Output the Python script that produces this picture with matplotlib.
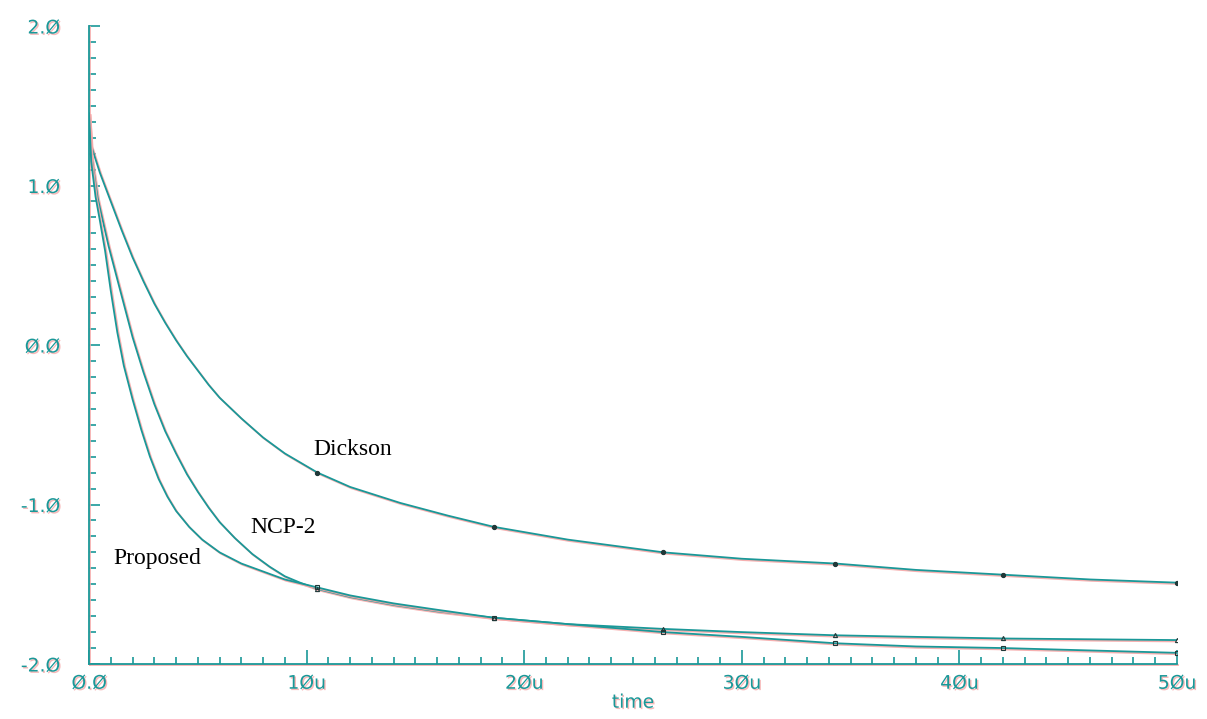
import numpy as np
import matplotlib
matplotlib.use("Agg")
import matplotlib.pyplot as plt
import matplotlib.patheffects as pe
from matplotlib.ticker import MultipleLocator, FixedLocator, FixedFormatter

# time in us, voltage in V
t_dickson = [0, 0.1, 0.5, 1.0, 1.5, 2.0, 2.5, 3.0, 3.5, 4.0, 4.5, 5.0, 5.5, 6.0, 7.0, 8.0,
             9.0, 10.5, 12.0, 14.3, 16.5, 18.6, 22.0, 26.4, 30.0, 34.3, 38.0, 42.0, 46.0, 50.0]
v_dickson = [1.45, 1.25, 1.08, 0.90, 0.72, 0.55, 0.40, 0.26, 0.14, 0.03, -0.07, -0.16,
             -0.25, -0.33, -0.46, -0.58, -0.68, -0.80, -0.89, -0.99, -1.07, -1.14, -1.22,
             -1.30, -1.34, -1.37, -1.41, -1.44, -1.47, -1.49]

t_ncp2 = [0, 0.1, 0.4, 0.9, 1.4, 2.0, 2.5, 3.0, 3.5, 4.0, 4.5, 5.0, 5.5, 6.0, 6.7, 7.5,
          8.3, 9.0, 9.7, 10.5, 12.0, 14.0, 16.0, 18.6, 22.0, 26.4, 30.0, 34.3, 38.0,
          42.0, 46.0, 50.0]
v_ncp2 = [1.45, 1.20, 0.92, 0.62, 0.36, 0.05, -0.17, -0.37, -0.54, -0.68, -0.81, -0.92,
          -1.02, -1.11, -1.21, -1.31, -1.39, -1.45, -1.49, -1.53, -1.58, -1.63, -1.67,
          -1.71, -1.75, -1.78, -1.80, -1.82, -1.83, -1.84, -1.845, -1.85]

t_prop = [0, 0.1, 0.3, 0.5, 0.74, 1.0, 1.3, 1.6, 2.0, 2.4, 2.8, 3.2, 3.6, 4.0, 4.6, 5.2,
          6.0, 7.0, 8.0, 9.0, 10.5, 12.0, 14.0, 16.0, 18.6, 22.0, 26.4, 30.0, 34.3,
          38.0, 42.0, 46.0, 50.0]
v_prop = [1.45, 1.15, 0.93, 0.78, 0.59, 0.34, 0.08, -0.13, -0.34, -0.53, -0.70, -0.84,
          -0.95, -1.04, -1.14, -1.22, -1.30, -1.37, -1.42, -1.47, -1.52, -1.57, -1.62,
          -1.66, -1.71, -1.75, -1.80, -1.83, -1.87, -1.89, -1.90, -1.915, -1.93]

marker_t = [10.5, 18.6, 26.4, 34.3, 42.0, 50.0]

y_ticks = [-2, -1, 0, 1, 2]
y_labels = ['-2.Ø', '-1.Ø', 'Ø.Ø', '1.Ø', '2.Ø']
x_ticks = [0, 10, 20, 30, 40, 50]
x_labels = ['Ø.Ø', '1Øu', '2Øu', '3Øu', '4Øu', '5Øu']

teal = '#1a9898'
pink = '#f6a8a8'

fig = plt.figure(figsize=(12.07, 7.19), dpi=100)
ax = fig.add_axes([89 / 1207, 55 / 719, 1088 / 1207, 638 / 719])

line_fx = [pe.SimpleLineShadow(offset=(1, -1), shadow_color=pink, alpha=0.9), pe.Normal()]
text_fx = [pe.withSimplePatchShadow(offset=(1, -1), shadow_rgbFace=pink, alpha=0.8)]

series = [(t_dickson, v_dickson, 'o'), (t_ncp2, v_ncp2, '^'), (t_prop, v_prop, 's')]
for t, v, m in series:
    t = np.array(t)
    v = np.array(v)
    ax.plot(t, v, color=teal, lw=1.3, path_effects=line_fx, zorder=3)
    mask = np.isin(t, marker_t)
    ax.plot(t[mask], v[mask], ls='none', marker=m, ms=3, color='#203838',
            mfc='none' if m != 'o' else '#203838', mew=0.8, zorder=4)

ax.set_xlim(0, 50)
ax.set_ylim(-2, 2)
for s in ['top', 'right']:
    ax.spines[s].set_visible(False)
for s in ['left', 'bottom']:
    ax.spines[s].set_color(teal)
    ax.spines[s].set_linewidth(1.3)
    ax.spines[s].set_path_effects(line_fx)

ax.yaxis.set_major_locator(FixedLocator(y_ticks))
ax.yaxis.set_major_formatter(FixedFormatter(y_labels))
ax.yaxis.set_minor_locator(MultipleLocator(0.1))
ax.xaxis.set_major_locator(FixedLocator(x_ticks))
ax.xaxis.set_major_formatter(FixedFormatter(x_labels))
ax.xaxis.set_minor_locator(MultipleLocator(1))

ax.tick_params(axis='y', which='major', direction='in', length=8, width=1.2,
               color=teal, labelcolor=teal, labelsize=13.5, pad=21)
ax.tick_params(axis='y', which='minor', direction='in', length=5, width=1.2, color=teal)
ax.tick_params(axis='x', which='major', direction='in', length=10, width=1.2,
               color=teal, labelcolor=teal, labelsize=13.5, pad=7)
ax.tick_params(axis='x', which='minor', direction='in', length=5, width=1.2, color=teal)
for lab in ax.get_xticklabels() + ax.get_yticklabels():
    lab.set_path_effects(text_fx)
for lab in ax.get_yticklabels():
    lab.set_verticalalignment('center_baseline')

ax.set_xlabel('time', color=teal, fontsize=13.5, labelpad=0,
              path_effects=text_fx)

serif = ['Liberation Serif', 'DejaVu Serif']
ax.text(10.29, -0.69, 'Dickson', family=serif, fontsize=17, color='black')
ax.text(7.40, -1.18, 'NCP-2', family=serif, fontsize=17, color='black')
ax.text(1.10, -1.373, 'Proposed', family=serif, fontsize=17, color='black')

fig.savefig('out.png', dpi=100)
